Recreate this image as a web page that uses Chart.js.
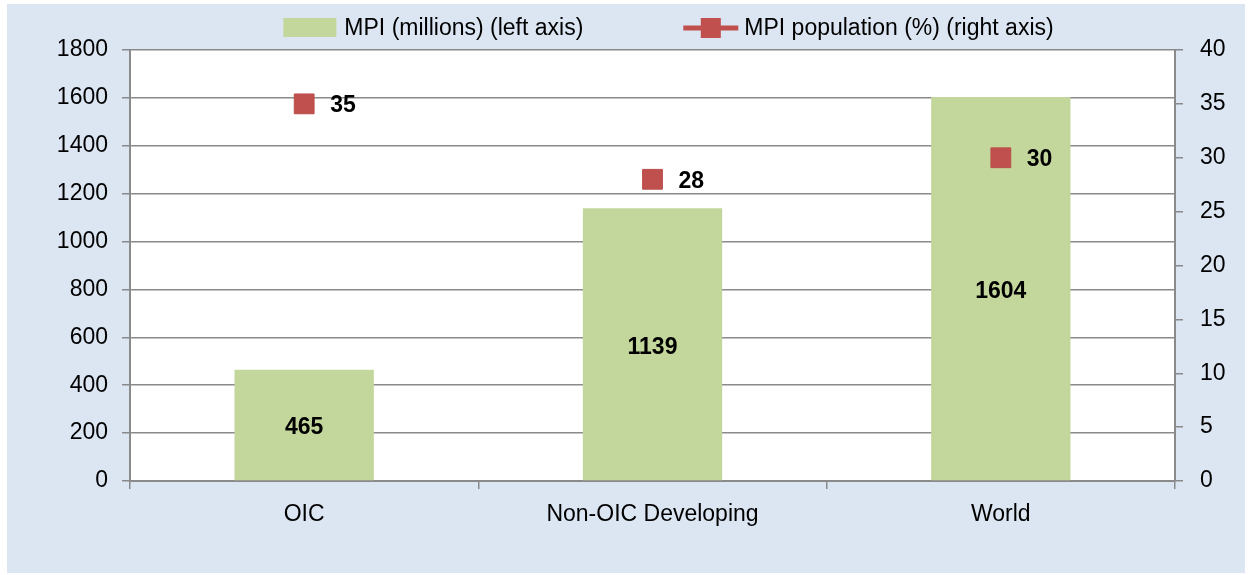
<!DOCTYPE html>
<html>
<head>
<meta charset="utf-8">
<title>MPI chart</title>
<script src="https://cdn.jsdelivr.net/npm/chart.js@4.4.1/dist/chart.umd.min.js"></script>
<style>
  html, body { margin: 0; padding: 0; background: #fff; }
  #frame { position: absolute; left: 7px; top: 4px; width: 1238px; height: 569px; background: #dce6f2; }
  #frame canvas { display: block; }
</style>
</head>
<body>
<div id="frame"><canvas id="mpiChart" width="1238" height="569"></canvas></div>
<script>
const categories = ["OIC", "Non-OIC Developing", "World"];
const mpiMillions = [465, 1139, 1604];
const mpiShare = [35, 28, 30];
const leftTicks = [0, 200, 400, 600, 800, 1000, 1200, 1400, 1600, 1800];
const rightTicks = [0, 5, 10, 15, 20, 25, 30, 35, 40];

const FONT = "'Liberation Sans', Arial, sans-serif";
const barColor = "#c3d69b";
const pointColor = "#c0504d";
const axisColor = "#8a8a8a";

Chart.defaults.font.family = FONT;
Chart.defaults.font.size = 23;
Chart.defaults.color = "#000";

// white plot area on the blue frame
const plotBackground = {
  id: "plotBackground",
  beforeDraw(chart) {
    const { ctx, chartArea: a } = chart;
    ctx.save();
    ctx.fillStyle = "#fff";
    ctx.fillRect(a.left, a.top, a.right - a.left, a.bottom - a.top);
    ctx.restore();
  },
};

const valueLabels = {
  id: "valueLabels",
  afterDatasetsDraw(chart) {
    const ctx = chart.ctx;
    ctx.save();
    ctx.font = "bold 23px " + FONT;
    ctx.fillStyle = "#000";
    ctx.textBaseline = "middle";
    chart.data.datasets.forEach((ds, i) => {
      const meta = chart.getDatasetMeta(i);
      meta.data.forEach((el, j) => {
        if (meta.type === "bar") {
          ctx.textAlign = "center";
          ctx.fillText(ds.data[j], el.x, (el.y + el.base) / 2 + 3);
        } else {
          ctx.textAlign = "left";
          ctx.fillText(ds.data[j], el.x + 26, el.y + 2);
        }
      });
    });
    ctx.restore();
  },
};

// one-row legend: box for the bars, line+square for the markers
const rowLegend = {
  id: "rowLegend",
  afterDraw(chart) {
    const { ctx, chartArea: a } = chart;
    const symW = 55, textGap = 6, itemGap = 100, y = 24, shift = 16;
    ctx.save();
    ctx.font = "23px " + FONT;
    const items = chart.data.datasets
      .slice()
      .sort((p, q) => q.order - p.order)
      .map((ds) => ({ ds, w: symW + textGap + ctx.measureText(ds.label).width }));
    const total = items.reduce((s, it) => s + it.w, 0) + itemGap * (items.length - 1);
    let x = (a.left + a.right) / 2 - total / 2 + shift;
    items.forEach(({ ds, w }) => {
      ctx.fillStyle = ds.backgroundColor;
      if (ds.type === "line") {
        ctx.strokeStyle = ds.backgroundColor;
        ctx.lineWidth = 5;
        ctx.beginPath();
        ctx.moveTo(x, y);
        ctx.lineTo(x + symW, y);
        ctx.stroke();
        ctx.fillRect(x + symW / 2 - 10, y - 10, 20, 20);
      } else {
        ctx.fillRect(x, y - 10, symW - 2, 19);
      }
      ctx.fillStyle = "#000";
      ctx.textAlign = "left";
      ctx.textBaseline = "middle";
      ctx.fillText(ds.label, x + symW + textGap, y + 1);
      x += w + itemGap;
    });
    ctx.restore();
  },
};

new Chart(document.getElementById("mpiChart"), {
  type: "bar",
  data: {
    labels: categories,
    datasets: [
      {
        type: "line",
        label: "MPI population (%) (right axis)",
        data: mpiShare,
        yAxisID: "y1",
        showLine: false,
        pointStyle: "rect",
        pointRadius: 14,
        pointHoverRadius: 14,
        backgroundColor: pointColor,
        borderColor: "#b94e4b",
        borderWidth: 1,
        order: 0,
      },
      {
        type: "bar",
        label: "MPI (millions) (left axis)",
        data: mpiMillions,
        yAxisID: "y",
        backgroundColor: barColor,
        barPercentage: 0.4,
        categoryPercentage: 1,
        order: 1,
      },
    ],
  },
  options: {
    responsive: false,
    animation: false,
    devicePixelRatio: 1,
    layout: { padding: { top: 46, left: 0, right: 0, bottom: 0 } },
    plugins: {
      legend: { display: false },
      tooltip: { enabled: false },
    },
    scales: {
      x: {
        grid: { display: true, drawOnChartArea: false, tickLength: 8, color: axisColor, lineWidth: 1.5 },
        border: { color: axisColor, width: 2 },
        ticks: { padding: 12 },
        afterFit: (scale) => { scale.height = 92; },
      },
      y: {
        position: "left",
        min: leftTicks[0],
        max: leftTicks[leftTicks.length - 1],
        afterBuildTicks: (scale) => { scale.ticks = leftTicks.map((v) => ({ value: v })); },
        grid: { color: axisColor, lineWidth: 1.5, tickLength: 8 },
        border: { color: axisColor, width: 2 },
        ticks: { padding: 14, callback: (v) => String(v) },
        afterFit: (scale) => { scale.width = 123; },
      },
      y1: {
        position: "right",
        min: rightTicks[0],
        max: rightTicks[rightTicks.length - 1],
        afterBuildTicks: (scale) => { scale.ticks = rightTicks.map((v) => ({ value: v })); },
        grid: { drawOnChartArea: false, color: axisColor, lineWidth: 1.5, tickLength: 8 },
        border: { color: axisColor, width: 2 },
        ticks: { padding: 17, callback: (v) => String(v) },
        afterFit: (scale) => { scale.width = 70; },
      },
    },
  },
  plugins: [plotBackground, valueLabels, rowLegend],
});
</script>
</body>
</html>
